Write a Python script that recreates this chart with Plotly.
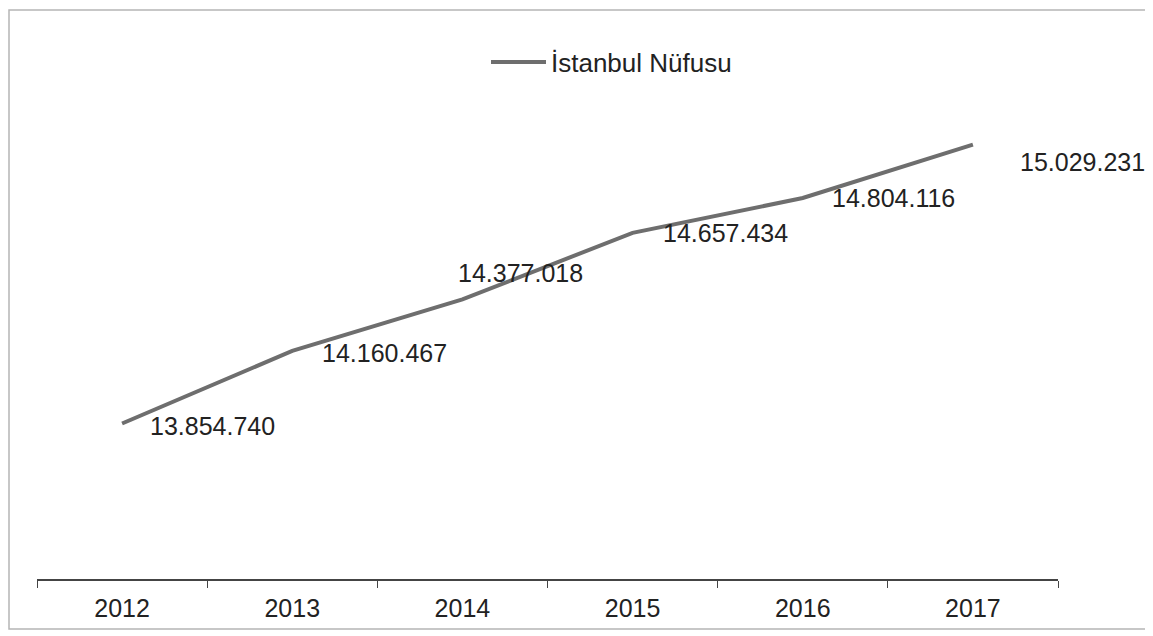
import plotly.graph_objects as go

years = ["2012", "2013", "2014", "2015", "2016", "2017"]
population = [13854740, 14160467, 14377018, 14657434, 14804116, 15029231]
series_name = "İstanbul Nüfusu"

# label placement (pixels, relative to the point)
LABEL_SHIFTS = [(26, -2), (28, -2), (-6, 26), (28, 0), (27, 0), (45, -17)]

W, H = 1153, 636
PAGE = 8  # body margin of the html page
# plot area edges, as seen on the page
AREA_LEFT, AREA_RIGHT, AREA_TOP, AREA_BOTTOM = 37, 1058, 104, 579
L, T = AREA_LEFT - PAGE, AREA_TOP - PAGE
R = W - L - (AREA_RIGHT - AREA_LEFT)
B = H - T - (AREA_BOTTOM - AREA_TOP)
FONT = "Liberation Sans, Arial, sans-serif"
GRAY = "#6e6e6e"


def fmt(value: int) -> str:
    return f"{value:,}".replace(",", ".")


def px_x(p):
    return (p - AREA_LEFT) / (AREA_RIGHT - AREA_LEFT)


def px_y(p):
    return (AREA_BOTTOM - p) / (AREA_BOTTOM - AREA_TOP)


fig = go.Figure(
    go.Scatter(
        x=years,
        y=population,
        mode="lines",
        name=series_name,
        line={"color": GRAY, "width": 4},
    )
)

# category axis: annotations take the category index
for index, (value, (dx, dy)) in enumerate(zip(population, LABEL_SHIFTS)):
    fig.add_annotation(
        x=index, y=value, text=fmt(value), showarrow=False,
        xanchor="left", yanchor="middle", xshift=dx, yshift=dy,
        font={"family": FONT, "size": 25, "color": "#222222"},
    )

fig.add_shape(
    type="rect", xref="paper", yref="paper",
    x0=px_x(9), x1=px_x(1148), y0=px_y(629), y1=px_y(10),
    line={"color": "#b5b5b5", "width": 1.5}, fillcolor="rgba(0,0,0,0)",
)

fig.update_xaxes(
    type="category",
    range=[-0.5, 5.5],
    tickson="boundaries",
    ticks="outside",
    ticklen=7,
    tickcolor="#444444",
    showline=True,
    linecolor="#444444",
    linewidth=1.5,
    showgrid=False,
    zeroline=False,
    tickfont={"family": FONT, "size": 25, "color": "#222222"},
    ticklabelstandoff=6,
)
fig.update_yaxes(visible=False, range=[13.2e6, 15.2e6], showgrid=False)

fig.update_layout(
    width=W,
    height=H,
    margin={"l": L, "r": R, "t": T, "b": B},
    paper_bgcolor="white",
    plot_bgcolor="white",
    showlegend=True,
    legend={
        "orientation": "h",
        "x": px_x(486),
        "xanchor": "left",
        "y": px_y(62),
        "yanchor": "middle",
        "font": {"family": FONT, "size": 26, "color": "#222222"},
        "itemwidth": 55,
        "bgcolor": "rgba(0,0,0,0)",
    },
)

fig.write_html("out.html")
